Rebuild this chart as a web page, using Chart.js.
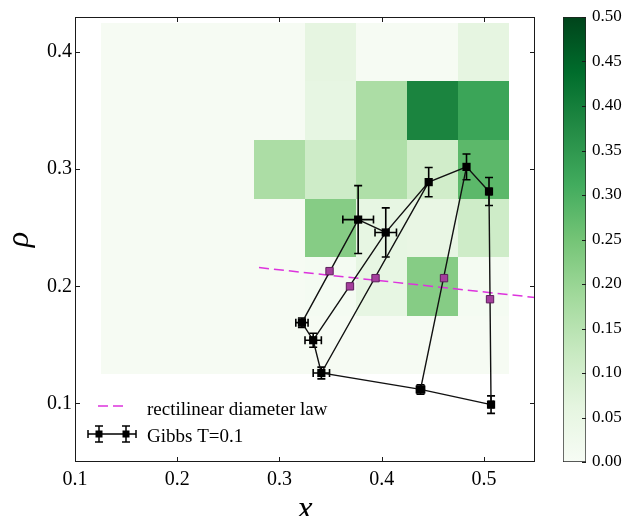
<!DOCTYPE html>
<html>
<head>
<meta charset="utf-8">
<script src="https://cdn.jsdelivr.net/npm/chart.js@4.4.1/dist/chart.umd.min.js"></script>
<style>
  html, body { margin: 0; padding: 0; background: #fff; }
  #wrap { position: relative; width: 634px; height: 516px; }
  #wrap canvas { position: absolute; left: 0; top: 0; }
</style>
</head>
<body>
<div id="wrap">
  <canvas id="main" width="634" height="516"></canvas>
  <canvas id="cbar" width="634" height="516"></canvas>
</div>
<script>
// histogram bin edges
var binX = [0.125, 0.175, 0.225, 0.275, 0.325, 0.375, 0.425, 0.475, 0.525];
var binY = [0.125, 0.175, 0.225, 0.275, 0.325, 0.375, 0.425];
// histogram values, bottom row first
var hist = [
  [0.005, 0.005, 0.005, 0.005, 0.005, 0.005, 0.005, 0.005],
  [0.005, 0.005, 0.005, 0.005, 0.01, 0.055, 0.225, 0.01],
  [0.005, 0.005, 0.005, 0.005, 0.225, 0.055, 0.05, 0.11],
  [0.005, 0.005, 0.005, 0.17, 0.11, 0.165, 0.105, 0.28],
  [0.005, 0.005, 0.005, 0.005, 0.055, 0.17, 0.39, 0.325],
  [0.005, 0.005, 0.005, 0.005, 0.06, 0.005, 0.005, 0.06],
];

// Gibbs T=0.1 : dense branch
var liqX = [0.377, 0.404, 0.446, 0.483, 0.505];
var liqY = [0.257, 0.246, 0.289, 0.302, 0.281];
var liqXErr = [0.015, 0.0105, 0.002, 0.002, 0.002];
var liqYErr = [0.029, 0.021, 0.0125, 0.011, 0.012];
// Gibbs T=0.1 : dilute branch
var vapX = [0.322, 0.333, 0.341, 0.438, 0.507];
var vapY = [0.169, 0.154, 0.126, 0.112, 0.099];
var vapXErr = [0.006, 0.008, 0.008, 0.004, 0.002];
var vapYErr = [0.004, 0.006, 0.005, 0.004, 0.0075];

// rectilinear diameter points and law
var diamX = [0.349, 0.369, 0.394, 0.461, 0.506];
var diamY = [0.213, 0.200, 0.207, 0.207, 0.189];
var lawX = [0.28, 0.55];
var lawY = [0.216, 0.1905];

var xTicks = [0.1, 0.2, 0.3, 0.4, 0.5];
var yTicks = [0.1, 0.2, 0.3, 0.4];
var cbTicks = [0, 0.05, 0.1, 0.15, 0.2, 0.25, 0.3, 0.35, 0.4, 0.45, 0.5];
var cbMin = 0, cbMax = 0.5;

// matplotlib Greens
var greens = ["#f7fcf5", "#e5f5e0", "#c7e9c0", "#a1d99b", "#74c476", "#41ab5d", "#238b45", "#006d2c", "#00441b"];
function hexRgb(h) {
  return [parseInt(h.substr(1, 2), 16), parseInt(h.substr(3, 2), 16), parseInt(h.substr(5, 2), 16)];
}
function greenAt(v) {
  var t = Math.max(0, Math.min(1, (v - cbMin) / (cbMax - cbMin))) * (greens.length - 1);
  var i = Math.min(Math.floor(t), greens.length - 2);
  var f = t - i;
  var a = hexRgb(greens[i]), b = hexRgb(greens[i + 1]);
  return "rgb(" + [0, 1, 2].map(function (k) { return Math.round(a[k] + (b[k] - a[k]) * f); }).join(",") + ")";
}

var serif = "'Liberation Serif', 'Times New Roman', serif";
var tickColor = "#1a1a1a";

function pts(xs, ys) { return xs.map(function (x, i) { return { x: x, y: ys[i] }; }); }

// connecting lines: both branches plus tie lines, broken with gaps
var gap = { x: null, y: null };
var pathData = pts(liqX, liqY).concat([gap], pts(vapX, vapY));
for (var i = 0; i < liqX.length; i++) {
  pathData.push(gap, { x: liqX[i], y: liqY[i] }, { x: vapX[i], y: vapY[i] });
}

var heatmapPlugin = {
  id: "heatmap",
  beforeDatasetsDraw: function (chart) {
    var c = chart.ctx, xs = chart.scales.x, ys = chart.scales.y, a = chart.chartArea;
    c.save();
    c.beginPath();
    c.rect(a.left, a.top, a.right - a.left, a.bottom - a.top);
    c.clip();
    for (var r = 0; r < hist.length; r++) {
      for (var k = 0; k < hist[r].length; k++) {
        var x0 = Math.round(xs.getPixelForValue(binX[k]));
        var x1 = Math.round(xs.getPixelForValue(binX[k + 1]));
        var y0 = Math.round(ys.getPixelForValue(binY[r]));
        var y1 = Math.round(ys.getPixelForValue(binY[r + 1]));
        c.fillStyle = greenAt(hist[r][k]);
        c.fillRect(x0, y1, x1 - x0, y0 - y1);
      }
    }
    // error bars
    c.strokeStyle = "#000";
    c.lineWidth = 1.6;
    var cap = 4;
    function bars(X, Y, XE, YE) {
      for (var j = 0; j < X.length; j++) {
        var px = xs.getPixelForValue(X[j]), py = ys.getPixelForValue(Y[j]);
        var xl = xs.getPixelForValue(X[j] - XE[j]), xr = xs.getPixelForValue(X[j] + XE[j]);
        var yt = ys.getPixelForValue(Y[j] + YE[j]), yb = ys.getPixelForValue(Y[j] - YE[j]);
        c.beginPath();
        c.moveTo(xl, py); c.lineTo(xr, py);
        c.moveTo(xl, py - cap); c.lineTo(xl, py + cap);
        c.moveTo(xr, py - cap); c.lineTo(xr, py + cap);
        c.moveTo(px, yt); c.lineTo(px, yb);
        c.moveTo(px - cap, yt); c.lineTo(px + cap, yt);
        c.moveTo(px - cap, yb); c.lineTo(px + cap, yb);
        c.stroke();
      }
    }
    bars(liqX, liqY, liqXErr, liqYErr);
    bars(vapX, vapY, vapXErr, vapYErr);
    c.restore();
  },
  afterDraw: function (chart) {
    var c = chart.ctx, xs = chart.scales.x, ys = chart.scales.y, a = chart.chartArea;
    c.save();
    // frame and inward ticks
    c.strokeStyle = tickColor;
    c.lineWidth = 1;
    c.strokeRect(a.left + 0.5, a.top + 0.5, a.right - a.left - 1, a.bottom - a.top - 1);
    c.beginPath();
    xTicks.forEach(function (v) {
      var p = Math.round(xs.getPixelForValue(v)) + 0.5;
      c.moveTo(p, a.bottom); c.lineTo(p, a.bottom - 5);
      c.moveTo(p, a.top); c.lineTo(p, a.top + 5);
    });
    yTicks.forEach(function (v) {
      var p = Math.round(ys.getPixelForValue(v)) + 0.5;
      c.moveTo(a.left, p); c.lineTo(a.left + 5, p);
      c.moveTo(a.right, p); c.lineTo(a.right - 5, p);
    });
    c.stroke();

    // legend
    c.font = "19px " + serif;
    c.fillStyle = "#000";
    c.textBaseline = "alphabetic";
    c.strokeStyle = "#dd33dd";
    c.lineWidth = 1.5;
    c.setLineDash([10, 5]);
    c.beginPath(); c.moveTo(98, 406); c.lineTo(123, 406); c.stroke();
    c.setLineDash([]);
    c.fillText("rectilinear diameter law", 147, 414.5);

    var ly = 434;
    c.strokeStyle = "#000";
    c.lineWidth = 1.5;
    c.beginPath();
    c.moveTo(88, ly); c.lineTo(136, ly);
    [99, 126].forEach(function (mx) {
      c.moveTo(mx, ly - 8); c.lineTo(mx, ly + 8);
      c.moveTo(mx - 4, ly - 8); c.lineTo(mx + 4, ly - 8);
      c.moveTo(mx - 4, ly + 8); c.lineTo(mx + 4, ly + 8);
    });
    c.moveTo(88, ly - 4); c.lineTo(88, ly + 4);
    c.moveTo(136, ly - 4); c.lineTo(136, ly + 4);
    c.stroke();
    [99, 126].forEach(function (mx) { c.fillRect(mx - 3.5, ly - 3.5, 7, 7); });
    c.fillText("Gibbs T=0.1", 147, 441.5);
    c.restore();
  },
};

new Chart(document.getElementById("main").getContext("2d"), {
  type: "scatter",
  data: {
    datasets: [
      {
        label: "diameter",
        data: pts(diamX, diamY),
        pointStyle: "rect",
        pointRadius: 5.2,
        backgroundColor: "#a43e9c",
        borderColor: "#5e1f5c",
        borderWidth: 1,
        order: 1,
      },
      {
        label: "Gibbs T=0.1",
        data: pts(liqX, liqY).concat(pts(vapX, vapY)),
        pointStyle: "rect",
        pointRadius: 5.8,
        backgroundColor: "#000",
        borderColor: "#000",
        borderWidth: 0,
        order: 2,
      },
      {
        label: "links",
        type: "line",
        data: pathData,
        borderColor: "#111",
        borderWidth: 1.4,
        pointRadius: 0,
        spanGaps: false,
        fill: false,
        order: 3,
      },
      {
        label: "rectilinear diameter law",
        type: "line",
        data: pts(lawX, lawY),
        borderColor: "#dd33dd",
        borderWidth: 1.5,
        borderDash: [10, 5],
        pointRadius: 0,
        fill: false,
        order: 4,
      },
    ],
  },
  options: {
    responsive: false,
    animation: false,
    events: [],
    layout: { padding: { left: 0, top: 17, right: 99, bottom: 0 } },
    plugins: { legend: { display: false }, tooltip: { enabled: false } },
    scales: {
      x: {
        type: "linear",
        min: 0.1,
        max: 0.55,
        afterBuildTicks: function (s) { s.ticks = xTicks.map(function (v) { return { value: v }; }); },
        afterFit: function (s) { s.height = 54; },
        grid: { display: false, drawTicks: false },
        border: { display: false },
        ticks: {
          autoSkip: false, maxRotation: 0, padding: 6, color: "#000",
          font: { family: serif, size: 20 },
          callback: function (v) { return v.toFixed(1); },
        },
        title: {
          display: true, text: "x", color: "#000",
          font: { family: serif, size: 34, style: "italic" },
          padding: { top: 0, bottom: -14 },
        },
      },
      y: {
        type: "linear",
        min: 0.05,
        max: 0.43,
        afterBuildTicks: function (s) { s.ticks = yTicks.map(function (v) { return { value: v }; }); },
        afterFit: function (s) { s.width = 75; },
        grid: { display: false, drawTicks: false },
        border: { display: false },
        ticks: {
          autoSkip: false, padding: 3, color: "#000",
          font: { family: serif, size: 20 },
          callback: function (v) { return v.toFixed(1); },
        },
        title: {
          display: true, text: "ρ", color: "#000",
          font: { family: serif, size: 32, style: "italic" },
          padding: { top: 0, bottom: 0 },
        },
      },
    },
  },
  plugins: [heatmapPlugin],
});

// colorbar
var cbTickPlugin = {
  id: "cbticks",
  afterDraw: function (chart) {
    var c = chart.ctx, ys = chart.scales.y, a = chart.chartArea;
    c.save();
    c.strokeStyle = tickColor;
    c.lineWidth = 1;
    c.beginPath();
    cbTicks.forEach(function (v) {
      var p = Math.round(ys.getPixelForValue(v)) + 0.5;
      c.moveTo(a.right, p); c.lineTo(a.right - 4, p);
    });
    c.stroke();
    c.restore();
  },
};

new Chart(document.getElementById("cbar").getContext("2d"), {
  type: "bar",
  data: {
    labels: ["cb"],
    datasets: [{
      data: [[cbMin, cbMax]],
      backgroundColor: function (ctx) {
        var a = ctx.chart.chartArea;
        if (!a) return greens[0];
        var g = ctx.chart.ctx.createLinearGradient(0, a.bottom, 0, a.top);
        greens.forEach(function (col, i) { g.addColorStop(i / (greens.length - 1), col); });
        return g;
      },
      borderColor: "#222",
      borderWidth: 1,
      borderSkipped: false,
      barPercentage: 1,
      categoryPercentage: 1,
    }],
  },
  options: {
    responsive: false,
    animation: false,
    events: [],
    layout: { padding: { left: 563, top: 17, right: 0, bottom: 54 } },
    plugins: { legend: { display: false }, tooltip: { enabled: false } },
    scales: {
      x: { display: false },
      y: {
        position: "right",
        min: cbMin,
        max: cbMax,
        afterBuildTicks: function (s) { s.ticks = cbTicks.map(function (v) { return { value: v }; }); },
        afterFit: function (s) { s.width = 48; },
        grid: { display: false, drawTicks: false },
        border: { display: false },
        ticks: {
          autoSkip: false, padding: 6, color: "#000",
          font: { family: serif, size: 17 },
          callback: function (v) { return v.toFixed(2); },
        },
      },
    },
  },
  plugins: [cbTickPlugin],
});
</script>
</body>
</html>
